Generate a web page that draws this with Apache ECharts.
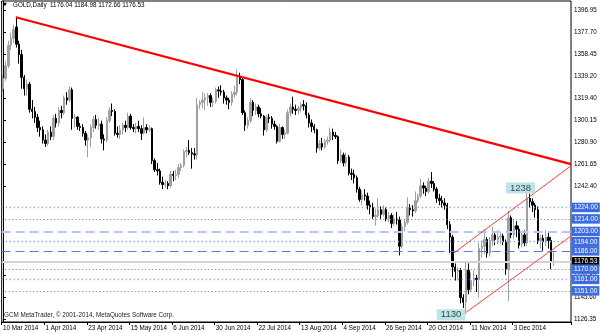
<!DOCTYPE html>
<html><head><meta charset="utf-8">
<script src="https://cdn.jsdelivr.net/npm/echarts@6/dist/echarts.min.js"></script>
<style>html,body{margin:0;padding:0;background:#fff}#c{width:600px;height:333px}</style>
</head><body><div id="c"></div>
<script>
// ---------- data ----------
const symbolName = 'GOLD,Daily';
const firstDate = '2014-03-10';   // first daily bar
const emptyFutureBars = 6;        // chart shift space on the right

const opens = [
1328,1337,1348,1366,1372,1382,1367,1358,1338,1328,
1332,1310,1308,1303,1294,1292,1283,1280,1290,1286,
1302,1298,1309,1307,1320,1318,1327,1302,1303,1295,
1294,1289,1283,1285,1294,1301,1296,1297,1284,1283,
1300,1309,1308,1289,1288,1292,1296,1294,1304,1294,
1293,1295,1293,1289,1294,1292,1293,1265,1257,1256,
1246,1244,1245,1243,1253,1252,1253,1259,1261,1273,
1274,1272,1271,1270,1314,1316,1318,1320,1322,1316,
1317,1327,1326,1325,1320,1318,1316,1323,1325,1338,
1336,1307,1296,1300,1316,1309,1312,1306,1304,1292,
1303,1302,1297,1295,1282,1294,1288,1289,1307,1312,
1310,1309,1311,1314,1313,1305,1298,1295,1292,1276,
1280,1277,1282,1283,1290,1287,1286,1265,1270,1263,
1268,1254,1253,1250,1240,1231,1235,1234,1226,1224,
1216,1217,1222,1218,1222,1214,1217,1210,1214,1213,
1190,1207,1211,1224,1222,1221,1230,1234,1243,1241,
1238,1247,1245,1240,1232,1230,1228,1226,1209,1198,
1172,1168,1169,1145,1141,1169,1152,1160,1162,1161,
1188,1190,1196,1184,1195,1200,1196,1198,1199,1194,
1170,1215,1200,1208,1205,1192,1200,1193,1232,1229,
1226,1222,1195,1197,1194,1198,1195,1176.04];

const highs = [
1340,1352,1370,1377,1384,1391,1370,1362,1340,1336,
1334,1318,1312,1306,1300,1295,1288,1292,1295,1305,
1306,1312,1313,1322,1325,1330,1329,1306,1304,1298,
1297,1291,1288,1297,1304,1305,1302,1300,1288,1303,
1312,1315,1310,1295,1296,1298,1300,1307,1306,1297,
1298,1300,1296,1303,1297,1296,1294,1267,1263,1258,
1251,1248,1247,1256,1256,1257,1262,1263,1275,1277,
1283,1276,1276,1320,1318,1325,1324,1324,1324,1320,
1329,1330,1331,1327,1322,1320,1326,1331,1345,1342,
1338,1309,1303,1320,1318,1315,1314,1311,1305,1305,
1306,1304,1300,1296,1297,1295,1292,1310,1315,1321,
1314,1313,1316,1318,1316,1307,1301,1297,1293,1283,
1285,1284,1286,1294,1293,1290,1287,1275,1272,1272,
1270,1258,1257,1252,1242,1239,1240,1237,1230,1228,
1223,1232,1225,1226,1224,1220,1219,1218,1220,1216,
1210,1214,1233,1227,1226,1238,1236,1249,1246,1243,
1250,1255,1247,1242,1236,1234,1232,1228,1212,1200,
1175,1172,1171,1148,1177,1175,1167,1169,1165,1193,
1195,1205,1198,1198,1207,1203,1204,1202,1201,1196,
1221,1217,1214,1212,1208,1203,1204,1238,1236,1232,
1228,1225,1200,1200,1204,1202,1198,1184.98];

const lows = [
1325,1335,1346,1362,1368,1364,1350,1328,1322,1322,
1307,1302,1298,1290,1286,1280,1277,1278,1283,1283,
1294,1295,1302,1305,1314,1316,1292,1294,1292,1291,
1286,1278,1268,1277,1290,1293,1292,1280,1274,1281,
1298,1304,1287,1285,1284,1288,1290,1292,1292,1290,
1289,1290,1283,1288,1289,1290,1262,1255,1252,1244,
1240,1241,1240,1241,1247,1248,1250,1256,1259,1268,
1270,1258,1266,1266,1310,1311,1309,1313,1312,1312,
1315,1320,1322,1315,1314,1310,1313,1320,1322,1332,
1305,1291,1293,1298,1304,1305,1303,1302,1287,1290,
1298,1293,1292,1280,1281,1284,1284,1288,1304,1306,
1305,1306,1307,1309,1302,1294,1290,1289,1272,1274,
1274,1275,1279,1281,1283,1284,1262,1263,1260,1260,
1252,1248,1245,1237,1229,1226,1230,1222,1218,1214,
1208,1215,1214,1216,1212,1211,1206,1208,1209,1182,
1188,1203,1209,1217,1216,1219,1228,1232,1236,1234,
1236,1241,1238,1228,1226,1224,1222,1205,1184,1163,
1160,1160,1140,1136,1130.5,1148,1150,1155,1150,1145,
1180,1183,1180,1181,1190,1191,1192,1192,1191,1165,
1142,1197,1196,1198,1188,1189,1190,1190,1224,1220,
1215,1192,1188,1186,1190,1188,1170,1172.66];

const closes = [
1337,1348,1366,1372,1380,1367,1358,1338,1328,1332,
1310,1308,1303,1294,1292,1283,1280,1290,1286,1302,
1298,1309,1307,1320,1318,1327,1302,1303,1295,1294,
1289,1283,1285,1294,1301,1296,1297,1284,1283,1300,
1309,1308,1289,1288,1292,1296,1294,1304,1294,1293,
1295,1293,1289,1294,1292,1293,1265,1257,1256,1246,
1244,1245,1243,1253,1252,1253,1259,1261,1273,1274,
1272,1271,1270,1314,1316,1318,1320,1322,1316,1317,
1327,1326,1325,1320,1318,1316,1323,1325,1338,1336,
1307,1296,1300,1316,1309,1312,1306,1304,1292,1303,
1302,1297,1295,1282,1294,1288,1289,1307,1312,1310,
1309,1311,1314,1313,1305,1298,1295,1292,1276,1280,
1277,1282,1283,1290,1287,1286,1265,1270,1263,1268,
1254,1253,1250,1240,1231,1235,1234,1226,1224,1216,
1217,1222,1218,1222,1214,1217,1210,1214,1213,1190,
1207,1211,1224,1222,1221,1230,1234,1243,1241,1238,
1247,1245,1240,1232,1230,1228,1226,1209,1198,1172,
1168,1169,1145,1141,1169,1152,1160,1162,1161,1188,
1190,1196,1184,1195,1200,1196,1198,1199,1194,1170,
1215,1200,1208,1205,1191,1200,1193,1232,1229,1226,
1222,1195,1197,1194,1198,1195,1176,1176.53];

const yTickLabels = ['1396.95','1377.70','1358.45','1339.20','1319.40','1300.15','1280.90','1261.65','1242.40','1164.85','1145.60','1126.35'];
const priceLevels = [1224, 1214, 1203, 1194, 1186, 1170, 1161, 1151];
const currentPrice = 1176.53;
// trend lines: [bar position, price]
const trendMain = [[4.8, 1390.6], [213.5, 1262.0]];
const channelUpper = [[169.3, 1183.8], [213.5, 1260.5]];
const channelLower = [[174.1, 1132.2], [213.5, 1199.0]];
const noteTexts = ['1238', '1130'];
const noteBars = [194.5, 168.4];
const notePrices = [1241.1, 1130.0];
const copyright = 'GCM MetaTrader, \u00a9 2001-2014, MetaQuotes Software Corp.';

// ---------- build ----------
const MONTHS = ['Jan','Feb','Mar','Apr','May','Jun','Jul','Aug','Sep','Oct','Nov','Dec'];
const nBars = opens.length + emptyFutureBars;
const dates = [];
{
  let d = new Date(firstDate + 'T00:00:00Z');
  while (dates.length < nBars) {
    const wd = d.getUTCDay();
    if (wd !== 0 && wd !== 6) dates.push(d.getUTCDate() + ' ' + MONTHS[d.getUTCMonth()] + ' ' + d.getUTCFullYear());
    d = new Date(d.getTime() + 86400000);
  }
}
const candles = opens.map((o, i) => [o, closes[i], lows[i], highs[i]]);
const lastI = opens.length - 1;
const header = symbolName + '  ' + [opens[lastI], highs[lastI], lows[lastI], closes[lastI]].map(v => v.toFixed(2)).join(' ');

const FONT = 'Liberation Sans';
const SMALL = 6.3;
const levelStyles = [
  {color:'#8ea8ee', width:1.4, type:[1.4,2.6]},
  {color:'#5b7bdc', width:1, type:[1,2.5]},
  {color:'#b4c8f4', width:2, type:[9,5]},
  {color:'#8ea8ee', width:1.4, type:[1.4,2.6]},
  {color:'#5b7bdc', width:1, type:[9,5]},
  {color:'#5b7bdc', width:1, type:[1,2.5]},
  {color:'#8ea8ee', width:1.4, type:[1.4,2.6]},
  {color:'#5b7bdc', width:1, type:[1,2.5]}
];
const tagLabel = (bg) => ({
  show:true, position:'end', distance:1, formatter: p => Number(p.value).toFixed(2),
  backgroundColor:bg, color:'#fff', fontSize:6.6, fontFamily:FONT, padding:[1.5,2,1,2]
});
const markData = priceLevels.map((v, i) => ({yAxis:v, lineStyle:levelStyles[i], label:tagLabel('#3d6be0')}));
markData.unshift({yAxis:currentPrice, lineStyle:{color:'#d2d2d2', width:2, type:'solid'}, label:tagLabel('#000')});

const tickEvery = (idx) => idx % 16 === 0 && idx <= lastI;
const chart = echarts.init(document.getElementById('c'), null, {renderer:'canvas'});
chart.setOption({
  animation:false,
  backgroundColor:'#fff',
  grid:{left:1, right:29, top:1, bottom:11, show:true, borderColor:'#000', borderWidth:1, backgroundColor:'transparent'},
  xAxis:[{
    type:'category', data:dates, boundaryGap:true,
    axisLine:{show:true, lineStyle:{color:'#000', width:1}},
    axisTick:{show:true, interval:tickEvery, alignWithLabel:false, length:3, lineStyle:{color:'#000'}},
    axisLabel:{interval:tickEvery, align:'left', fontSize:SMALL, fontFamily:FONT, color:'#000', margin:3},
    splitLine:{show:false}
  },{
    type:'value', min:-0.5, max:nBars - 0.5, show:false
  }],
  yAxis:{
    type:'value', position:'right', min:1123.7, max:1404.8, scale:true,
    axisLine:{show:true, lineStyle:{color:'#000', width:1}},
    axisTick:{show:true, length:3, inside:false, customValues:yTickLabels.map(Number), lineStyle:{color:'#000'}},
    axisLabel:{customValues:yTickLabels.map(Number), formatter:v => v.toFixed(2), fontSize:SMALL, fontFamily:FONT, color:'#000', margin:3},
    splitLine:{show:false}
  },
  series:[{
    type:'candlestick', data:candles, barWidth:1.9,
    itemStyle:{color:'#a0a0a0', color0:'#000', borderColor:'#a0a0a0', borderColor0:'#000', borderWidth:1},
    markLine:{silent:true, symbol:['none','none'], animation:false, data:markData}
  },{
    type:'line', xAxisIndex:1, data:trendMain, symbol:'none', lineStyle:{color:'#ff0000', width:2.2}, silent:true, z:5
  },{
    type:'line', xAxisIndex:1, data:channelUpper, symbol:'none', lineStyle:{color:'#ff4040', width:1}, silent:true, z:5
  },{
    type:'line', xAxisIndex:1, data:channelLower, symbol:'none', lineStyle:{color:'#ff4040', width:1}, silent:true, z:5
  },{
    type:'scatter', xAxisIndex:1, symbolSize:0, silent:true, z:6,
    data:noteTexts.map((t, i) => ({value:[noteBars[i], notePrices[i]], name:t})),
    label:{show:true, position:'inside', formatter:p => p.name, backgroundColor:'#a9dfe4', color:'#1a1a1a',
      fontSize:9.5, fontFamily:FONT, lineHeight:11, padding:[0,4]}
  }],
  graphic:[
    {type:'text', left:3, top:2, style:{text:'\u25BC', fontSize:5, fontFamily:'DejaVu Sans', fill:'#000'}},
    {type:'text', left:13, top:2, style:{text:header, fontSize:SMALL, fontFamily:FONT, fill:'#000'}},
    {type:'text', left:4, top:312, style:{text:copyright, fontSize:SMALL, fontFamily:FONT, fill:'#222'}}
  ]
});
</script></body></html>
